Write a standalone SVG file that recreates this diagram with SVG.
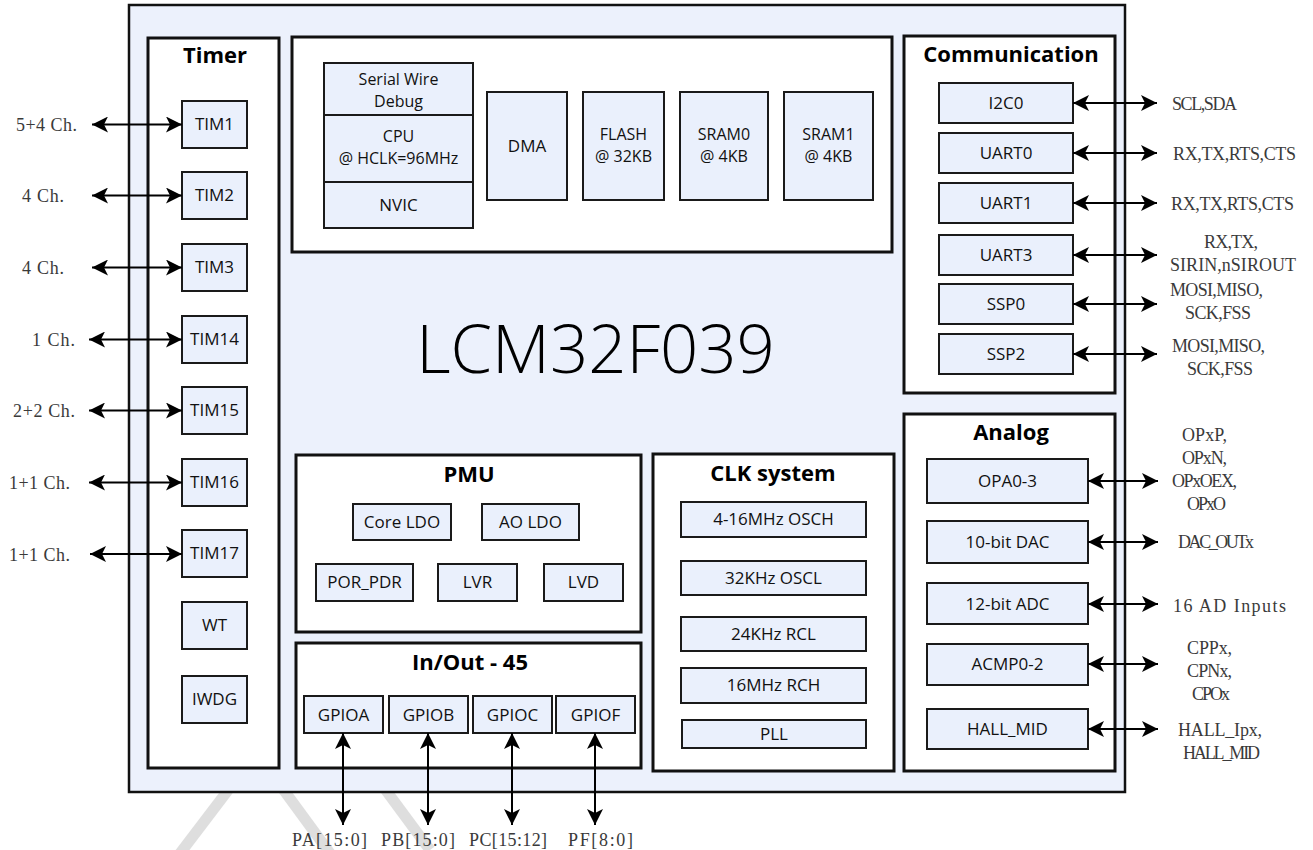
<svg xmlns="http://www.w3.org/2000/svg" width="1313" height="850" viewBox="0 0 1313 850">
<style>
.bg{fill:#fff}
.outer{fill:#ECF1FC;stroke:#111;stroke-width:2.5}
.grp{fill:#fff;stroke:#111;stroke-width:3}
.blk{fill:#EAF0FC;stroke:#1a1a1a;stroke-width:2}
.t{font-family:"Open Sans","Noto Sans","DejaVu Sans",sans-serif;font-size:17px;fill:#111;text-anchor:middle}
.t2{font-family:"Open Sans","Noto Sans","DejaVu Sans",sans-serif;font-size:16px;fill:#111;text-anchor:middle}
.ttl{font-family:"Open Sans","Noto Sans","DejaVu Sans",sans-serif;font-size:22px;font-weight:bold;fill:#000;text-anchor:middle}
.big{font-family:"Open Sans","Noto Sans","DejaVu Sans",sans-serif;font-size:67px;font-weight:300;fill:#000;text-anchor:middle}
.sig{font-family:"Liberation Serif","Noto Sans CJK SC",serif;font-size:18px;fill:#3a3a3a}
.wm{stroke:#dedede;stroke-width:11;fill:none}
.c line{stroke:#000;stroke-width:2;marker-start:url(#ah);marker-end:url(#ah)}
</style>
<defs>
<marker id="ah" viewBox="0 0 16 16" refX="16" refY="8" markerWidth="16" markerHeight="16" markerUnits="userSpaceOnUse" orient="auto-start-reverse"><path d="M0,0 L16,8 L0,16 L4,8 Z" fill="#000"/></marker>
</defs>
<rect class="bg" x="0" y="0" width="1313" height="850"/>
<g id="watermark">
<line class="wm" x1="178" y1="856" x2="232" y2="785"/>
<line class="wm" x1="280" y1="785" x2="332" y2="856"/>
<line class="wm" x1="382" y1="785" x2="430" y2="850"/>
</g>
<g id="chip">
<rect class="outer" x="129" y="5" width="996" height="787"/>
<text class="big" x="595.5" y="373">LCM32F039</text>
</g>
<g id="timer">
<rect class="grp" x="148" y="38" width="131" height="730"/>
<text class="ttl" x="215" y="63">Timer</text>
</g>
<g id="tim1"><rect class="blk" x="182" y="101" width="65" height="47"/><text class="t" x="214.5" y="130">TIM1</text></g>
<g id="tim2"><rect class="blk" x="182" y="172" width="65" height="47"/><text class="t" x="214.5" y="201">TIM2</text></g>
<g id="tim3"><rect class="blk" x="182" y="244" width="65" height="47"/><text class="t" x="214.5" y="273">TIM3</text></g>
<g id="tim14"><rect class="blk" x="182" y="316" width="65" height="47"/><text class="t" x="214.5" y="345">TIM14</text></g>
<g id="tim15"><rect class="blk" x="182" y="387" width="65" height="47"/><text class="t" x="214.5" y="416">TIM15</text></g>
<g id="tim16"><rect class="blk" x="182" y="459" width="65" height="47"/><text class="t" x="214.5" y="488">TIM16</text></g>
<g id="tim17"><rect class="blk" x="182" y="530" width="65" height="47"/><text class="t" x="214.5" y="559">TIM17</text></g>
<g id="wt"><rect class="blk" x="182" y="602" width="65" height="47"/><text class="t" x="214.5" y="631">WT</text></g>
<g id="iwdg"><rect class="blk" x="182" y="676" width="65" height="47"/><text class="t" x="214.5" y="705">IWDG</text></g>

<g id="core">
<rect class="grp" x="292" y="37" width="600" height="215"/>
</g>
<g id="swd"><rect class="blk" x="324" y="63" width="149" height="52"/><text class="t2" x="398.5" y="85">Serial Wire</text><text class="t2" x="398.5" y="107">Debug</text></g>
<g id="cpu"><rect class="blk" x="324" y="115" width="149" height="67"/><text class="t2" x="398.5" y="142">CPU</text><text class="t2" x="398.5" y="164">@ HCLK=96MHz</text></g>
<g id="nvic"><rect class="blk" x="324" y="182" width="149" height="46"/><text class="t" x="398.5" y="211">NVIC</text></g>
<g id="dma"><rect class="blk" x="487" y="92" width="80" height="108"/><text class="t" x="527" y="152">DMA</text></g>
<g id="flash"><rect class="blk" x="583" y="92" width="81" height="108"/><text class="t2" x="623.5" y="140">FLASH</text><text class="t2" x="623.5" y="162">@ 32KB</text></g>
<g id="sram0"><rect class="blk" x="680" y="92" width="88" height="108"/><text class="t2" x="724" y="140">SRAM0</text><text class="t2" x="724" y="162">@ 4KB</text></g>
<g id="sram1"><rect class="blk" x="784" y="92" width="89" height="108"/><text class="t2" x="828.5" y="140">SRAM1</text><text class="t2" x="828.5" y="162">@ 4KB</text></g>

<g id="communication">
<rect class="grp" x="904" y="36" width="211" height="357"/>
<text class="ttl" x="1011" y="62">Communication</text>
</g>
<g id="i2c0"><rect class="blk" x="939" y="83" width="134" height="40"/><text class="t" x="1006" y="109">I2C0</text></g>
<g id="uart0"><rect class="blk" x="939" y="133" width="134" height="40"/><text class="t" x="1006" y="159">UART0</text></g>
<g id="uart1"><rect class="blk" x="939" y="183" width="134" height="40"/><text class="t" x="1006" y="209">UART1</text></g>
<g id="uart3"><rect class="blk" x="939" y="235" width="134" height="40"/><text class="t" x="1006" y="261">UART3</text></g>
<g id="ssp0"><rect class="blk" x="939" y="284" width="134" height="40"/><text class="t" x="1006" y="310">SSP0</text></g>
<g id="ssp2"><rect class="blk" x="939" y="334" width="134" height="40"/><text class="t" x="1006" y="360">SSP2</text></g>

<g id="analog">
<rect class="grp" x="904" y="414" width="211" height="357"/>
<text class="ttl" x="1011" y="440">Analog</text>
</g>
<g id="opa"><rect class="blk" x="927" y="459" width="161" height="44"/><text class="t" x="1007.5" y="487">OPA0-3</text></g>
<g id="dac"><rect class="blk" x="927" y="521" width="161" height="42"/><text class="t" x="1007.5" y="548">10-bit DAC</text></g>
<g id="adc"><rect class="blk" x="927" y="583" width="161" height="41"/><text class="t" x="1007.5" y="610">12-bit ADC</text></g>
<g id="acmp"><rect class="blk" x="927" y="644" width="161" height="41"/><text class="t" x="1007.5" y="670">ACMP0-2</text></g>
<g id="hall"><rect class="blk" x="927" y="709" width="161" height="40"/><text class="t" x="1007.5" y="735">HALL_MID</text></g>

<g id="pmu">
<rect class="grp" x="296" y="455" width="345" height="177"/>
<text class="ttl" x="469" y="482">PMU</text>
</g>
<g id="coreldo"><rect class="blk" x="353" y="504" width="98" height="36"/><text class="t" x="402" y="528">Core LDO</text></g>
<g id="aoldo"><rect class="blk" x="482" y="504" width="97" height="36"/><text class="t" x="530.5" y="528">AO LDO</text></g>
<g id="porpdr"><rect class="blk" x="316" y="564" width="97" height="37"/><text class="t" x="364.5" y="588">POR_PDR</text></g>
<g id="lvr"><rect class="blk" x="438" y="564" width="79" height="37"/><text class="t" x="477.5" y="588">LVR</text></g>
<g id="lvd"><rect class="blk" x="544" y="564" width="79" height="37"/><text class="t" x="583.5" y="588">LVD</text></g>

<g id="inout">
<rect class="grp" x="296" y="643" width="345" height="125"/>
<text class="ttl" x="470" y="670">In/Out - 45</text>
</g>
<g id="gpioa"><rect class="blk" x="304" y="696" width="79" height="37"/><text class="t" x="343.5" y="721">GPIOA</text></g>
<g id="gpiob"><rect class="blk" x="389" y="696" width="79" height="37"/><text class="t" x="428.5" y="721">GPIOB</text></g>
<g id="gpioc"><rect class="blk" x="473" y="696" width="79" height="37"/><text class="t" x="512.5" y="721">GPIOC</text></g>
<g id="gpiof"><rect class="blk" x="556" y="696" width="79" height="37"/><text class="t" x="595.5" y="721">GPIOF</text></g>

<g id="clk">
<rect class="grp" x="653" y="454" width="241" height="317"/>
<text class="ttl" x="773" y="481">CLK system</text>
</g>
<g id="osch"><rect class="blk" x="681" y="502" width="185" height="35"/><text class="t" x="773.5" y="525">4-16MHz OSCH</text></g>
<g id="oscl"><rect class="blk" x="681" y="561" width="185" height="34"/><text class="t" x="773.5" y="584">32KHz OSCL</text></g>
<g id="rcl"><rect class="blk" x="681" y="617" width="185" height="34"/><text class="t" x="773.5" y="640">24KHz RCL</text></g>
<g id="rch"><rect class="blk" x="681" y="668" width="185" height="35"/><text class="t" x="773.5" y="691">16MHz RCH</text></g>
<g id="pll"><rect class="blk" x="682" y="720" width="184" height="28"/><text class="t" x="774" y="740">PLL</text></g>

<g id="connectors" class="c">
<line x1="92" y1="124.5" x2="182" y2="124.5"/>
<line x1="92" y1="195.5" x2="182" y2="195.5"/>
<line x1="92" y1="267.5" x2="182" y2="267.5"/>
<line x1="89" y1="339.5" x2="182" y2="339.5"/>
<line x1="89" y1="410.5" x2="182" y2="410.5"/>
<line x1="89" y1="482.5" x2="182" y2="482.5"/>
<line x1="90" y1="554" x2="182" y2="554"/>
<line x1="1073" y1="103" x2="1157" y2="103"/>
<line x1="1073" y1="153" x2="1157" y2="153"/>
<line x1="1073" y1="203" x2="1157" y2="203"/>
<line x1="1073" y1="255" x2="1157" y2="255"/>
<line x1="1073" y1="304" x2="1157" y2="304"/>
<line x1="1073" y1="354" x2="1157" y2="354"/>
<line x1="1088" y1="481" x2="1158" y2="481"/>
<line x1="1088" y1="542" x2="1158" y2="542"/>
<line x1="1088" y1="604" x2="1158" y2="604"/>
<line x1="1088" y1="664" x2="1158" y2="664"/>
<line x1="1088" y1="729" x2="1158" y2="729"/>
<line x1="343" y1="733" x2="343" y2="825"/>
<line x1="428" y1="733" x2="428" y2="825"/>
<line x1="512" y1="733" x2="512" y2="825"/>
<line x1="595" y1="733" x2="595" y2="825"/>
</g>

<g id="signals">
<text class="sig" x="16" y="131" textLength="61" lengthAdjust="spacing">5+4 Ch.</text>
<text class="sig" x="22" y="202" textLength="42" lengthAdjust="spacing">4 Ch.</text>
<text class="sig" x="22" y="274" textLength="42" lengthAdjust="spacing">4 Ch.</text>
<text class="sig" x="32" y="346" textLength="43" lengthAdjust="spacing">1 Ch.</text>
<text class="sig" x="13" y="417" textLength="62" lengthAdjust="spacing">2+2 Ch.</text>
<text class="sig" x="9" y="489" textLength="61" lengthAdjust="spacing">1+1 Ch.</text>
<text class="sig" x="9" y="561" textLength="61" lengthAdjust="spacing">1+1 Ch.</text>

<text class="sig" x="1172" y="110" textLength="65" lengthAdjust="spacing">SCL,SDA</text>
<text class="sig" x="1173" y="160" textLength="123" lengthAdjust="spacing">RX,TX,RTS,CTS</text>
<text class="sig" x="1171" y="210" textLength="123" lengthAdjust="spacing">RX,TX,RTS,CTS</text>
<text class="sig" x="1204" y="248" textLength="54" lengthAdjust="spacing">RX,TX,</text>
<text class="sig" x="1170" y="271" textLength="126" lengthAdjust="spacing">SIRIN,nSIROUT</text>
<text class="sig" x="1170" y="296" textLength="93" lengthAdjust="spacing">MOSI,MISO,</text>
<text class="sig" x="1185" y="319" textLength="66" lengthAdjust="spacing">SCK,FSS</text>
<text class="sig" x="1172" y="352" textLength="93" lengthAdjust="spacing">MOSI,MISO,</text>
<text class="sig" x="1187" y="375" textLength="66" lengthAdjust="spacing">SCK,FSS</text>

<text class="sig" x="1182" y="441" textLength="45" lengthAdjust="spacing">OPxP,</text>
<text class="sig" x="1182" y="464" textLength="45" lengthAdjust="spacing">OPxN,</text>
<text class="sig" x="1172" y="487" textLength="65" lengthAdjust="spacing">OPxOEX,</text>
<text class="sig" x="1187" y="510" textLength="39" lengthAdjust="spacing">OPxO</text>
<text class="sig" x="1178" y="548" textLength="76" lengthAdjust="spacing">DAC_OUTx</text>
<text class="sig" x="1173" y="612" textLength="113" lengthAdjust="spacing">16 AD Inputs</text>
<text class="sig" x="1187" y="654" textLength="45" lengthAdjust="spacing">CPPx,</text>
<text class="sig" x="1187" y="677" textLength="45" lengthAdjust="spacing">CPNx,</text>
<text class="sig" x="1192" y="700" textLength="38" lengthAdjust="spacing">CPOx</text>
<text class="sig" x="1178" y="736" textLength="84" lengthAdjust="spacing">HALL_Ipx,</text>
<text class="sig" x="1183" y="759" textLength="77" lengthAdjust="spacing">HALL_MID</text>

<text class="sig" x="292" y="846" textLength="75" lengthAdjust="spacing">PA[15:0]</text>
<text class="sig" x="381" y="846" textLength="74" lengthAdjust="spacing">PB[15:0]</text>
<text class="sig" x="469" y="846" textLength="78" lengthAdjust="spacing">PC[15:12]</text>
<text class="sig" x="568" y="846" textLength="65" lengthAdjust="spacing">PF[8:0]</text>
</g>
</svg>
